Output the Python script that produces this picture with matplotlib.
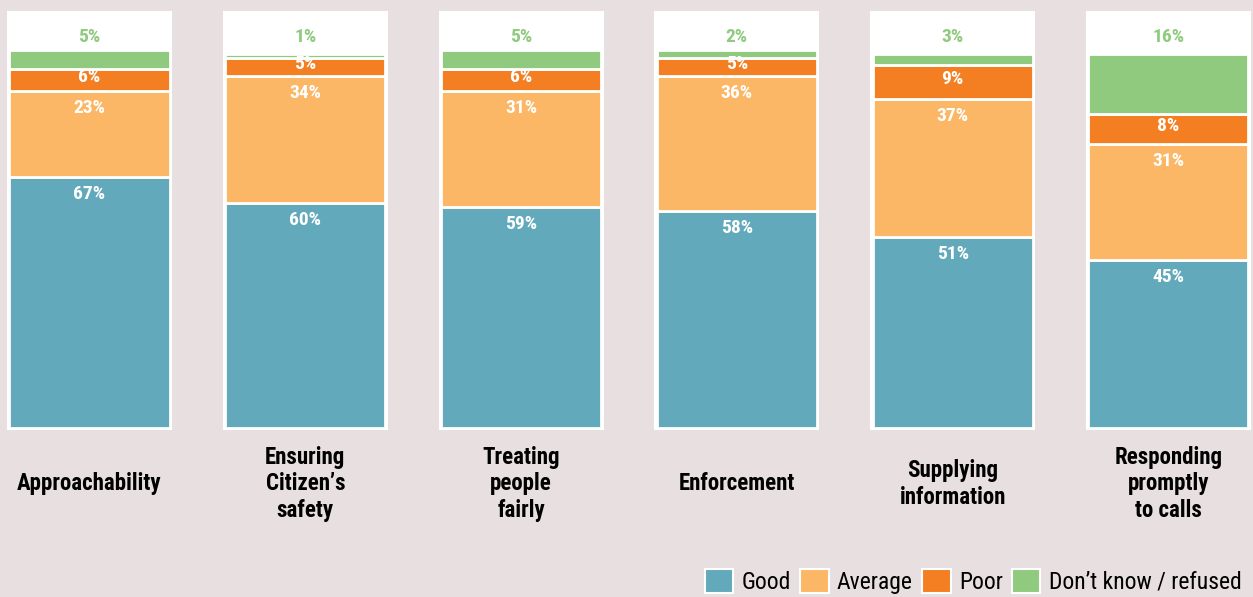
import matplotlib
matplotlib.use("Agg")
import matplotlib.pyplot as plt
from matplotlib.patches import Patch
from matplotlib import font_manager

categories = ["Approachability", "Ensuring\nCitizen’s\nsafety", "Treating\npeople\nfairly",
              "Enforcement", "Supplying\ninformation", "Responding\npromptly\nto calls"]
good = [67, 60, 59, 58, 51, 45]
average = [23, 34, 31, 36, 37, 31]
poor = [6, 5, 6, 5, 9, 8]
dont_know = [5, 1, 5, 2, 3, 16]
series_names = ["Good", "Average", "Poor", "Don’t know / refused"]

colors = ["#62aabb", "#fbb766", "#f37f22", "#8fca7e"]
bg = "#e8dfe1"

names = {f.name for f in font_manager.fontManager.ttflist}
preferred = ["Roboto Condensed", "Liberation Sans Narrow", "Roboto", "DejaVu Sans"]
family = [n for n in preferred if n in names]
plt.rcParams["font.family"] = family

fig = plt.figure(figsize=(12.53, 5.97), dpi=100, facecolor=bg)
ax = fig.add_axes([0, 0, 1, 1])
ax.set_facecolor(bg)
ax.set_xlim(-0.415, 5.392)
ax.set_ylim(-45.2, 114.4)
ax.axis("off")

x = list(range(len(categories)))
# white card behind each column
ax.bar(x, [112.0] * len(x), bottom=-0.5, width=0.765, color="white", zorder=1, linewidth=0)

bottom = [0] * len(x)
for vals, col in zip([good, average, poor, dont_know], colors):
    ax.bar(x, vals, bottom=bottom, width=0.742, color=col, edgecolor="white",
           linewidth=2, zorder=2)
    bottom = [b + v for b, v in zip(bottom, vals)]

px = 3.74  # pixels per percentage point
lab = dict(ha="center", color="white", fontsize=14, fontweight="bold", zorder=3)
for i in x:
    g_top = good[i]
    a_top = good[i] + average[i]
    ax.text(i, g_top - 8 / px, f"{good[i]}%", va="top", **lab)
    ax.text(i, a_top - 8 / px, f"{average[i]}%", va="top", **lab)
    ax.text(i, a_top + poor[i] / 2 + 0.8, f"{poor[i]}%", va="center", **lab)
    ax.text(i, (428 - 37) / px, f"{dont_know[i]}%", ha="center", va="center",
            color=colors[3], fontsize=14, fontweight="bold", zorder=3)
    ax.text(i, (428 - 484) / px, categories[i], ha="center", va="center", color="black",
            fontsize=16.5, fontweight="bold", linespacing=1.18)

handles = [Patch(facecolor=c, edgecolor="white", linewidth=1.5) for c in colors]
ax.legend(handles, series_names, loc="lower right", bbox_to_anchor=(1.004, -0.022),
          ncol=4, frameon=False, handlelength=1.2, handleheight=1.2,
          handletextpad=0.35, columnspacing=0.4, borderpad=0.2,
          prop={"size": 17})

fig.savefig("out.png", dpi=100, facecolor=bg)
